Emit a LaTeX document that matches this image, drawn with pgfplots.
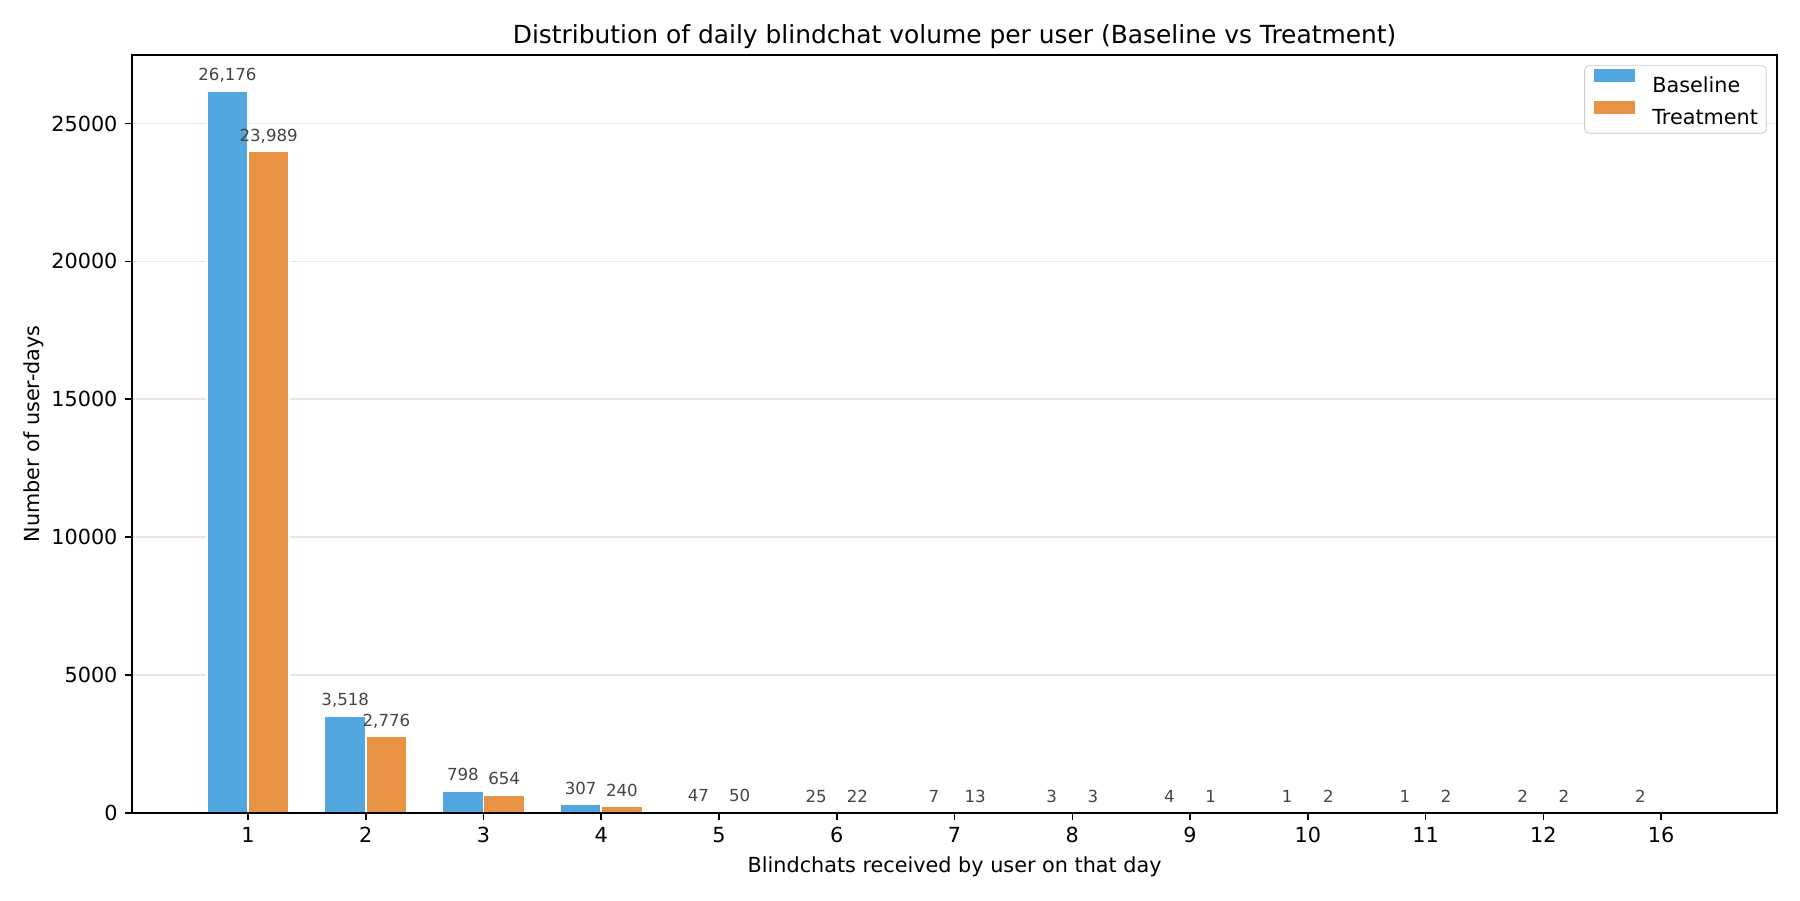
\documentclass[border=0pt]{standalone}
\usepackage{pgfplots}
\pgfplotsset{compat=1.18}
\usepackage{fontspec}
\setmainfont{DejaVu Sans}
\definecolor{cblue}{RGB}{82,167,224}
\definecolor{corange}{RGB}{232,146,68}
\definecolor{lblgray}{RGB}{68,68,68}
\definecolor{gridgray}{RGB}{230,230,230}
\definecolor{leggray}{RGB}{204,204,204}
\begin{document}
\begin{tikzpicture}
\useasboundingbox (0,0) rectangle (864bp,432bp);
\begin{axis}[
  at={(63.4bp,41.8bp)}, anchor=south west,
  scale only axis, width=789.6bp, height=363.8bp,
  xmin=-0.985, xmax=12.985, ymin=0, ymax=27485,
  xtick={0,1,2,3,4,5,6,7,8,9,10,11,12},
  xticklabels={1,2,3,4,5,6,7,8,9,10,11,12,16},
  ytick={0,5000,10000,15000,20000,25000},
  scaled y ticks=false,
  /pgf/number format/1000 sep={},
  /pgf/number format/assume math mode=true,
  tick align=outside, major tick length=3.5bp,
  xtick pos=left, ytick pos=left,
  ymajorgrids, grid style={gridgray, line width=0.8bp},
  axis line style={line width=0.8bp},
  tick style={black, line width=0.8bp},
  tick label style={font=\fontsize{10}{12}\selectfont},
  title={Distribution of daily blindchat volume per user (Baseline vs Treatment)},
  title style={font=\fontsize{12}{14}\selectfont, at={(axis description cs:0.5,1)}, anchor=base, yshift=-0.3bp, inner sep=0pt},
  xlabel={Blindchats received by user on that day},
  xlabel style={font=\fontsize{10}{12}\selectfont, at={(axis description cs:0.5,0)}, anchor=base, yshift=-28.6bp, inner sep=0pt},
  ylabel={Number of user-days},
  ylabel style={font=\fontsize{10}{12}\selectfont, at={(axis description cs:-0.05623,0.5)}, anchor=base, inner sep=0pt},
  legend style={at={(axis description cs:1,1)}, anchor=north east, xshift=-5bp, yshift=-5bp,
    draw=leggray, rounded corners=2bp, fill=white, font=\fontsize{10}{12}\selectfont,
    inner xsep=4bp, inner ysep=0.8bp, column sep=8bp,
    nodes={inner xsep=0pt, inner ysep=3.5bp, text height=7.6bp, text depth=0pt},
    cells={anchor=west}},
  after end axis/.code={\draw[black, line width=0.8bp] (rel axis cs:0,0) -- (rel axis cs:1,0);},
]
\addplot[ybar, bar width=0.35, bar shift=0pt, fill=cblue, draw=white, line width=0.8bp,
  legend image code/.code={\draw[sharp corners, fill=cblue, draw=white, line width=0.5bp] (0bp,0.8bp) rectangle (20bp,7.8bp);},
  nodes near coords={\pgfmathprintnumber[1000 sep={,}]{\pgfplotspointmeta}},
  nodes near coords style={font=\fontsize{8}{9.6}\selectfont, text=lblgray, anchor=south, inner sep=0pt, text depth=1.9bp, yshift=2.6bp},
  point meta=y]
  coordinates {(-0.175,26176) (0.825,3518) (1.825,798) (2.825,307) (3.825,47) (4.825,25) (5.825,7) (6.825,3) (7.825,4) (8.825,1) (9.825,1) (10.825,2) (11.825,2)};
\addlegendentry{Baseline}
\addplot[ybar, bar width=0.35, bar shift=0pt, fill=corange, draw=white, line width=0.8bp,
  legend image code/.code={\draw[sharp corners, fill=corange, draw=white, line width=0.5bp] (0bp,0.8bp) rectangle (20bp,7.8bp);},
  nodes near coords={\pgfmathprintnumber[1000 sep={,}]{\pgfplotspointmeta}},
  nodes near coords style={font=\fontsize{8}{9.6}\selectfont, text=lblgray, anchor=south, inner sep=0pt, text depth=1.9bp, yshift=2.6bp},
  point meta=y]
  coordinates {(0.175,23989) (1.175,2776) (2.175,654) (3.175,240) (4.175,50) (5.175,22) (6.175,13) (7.175,3) (8.175,1) (9.175,2) (10.175,2) (11.175,2)};
\addlegendentry{Treatment}
\end{axis}
\end{tikzpicture}
\end{document}
